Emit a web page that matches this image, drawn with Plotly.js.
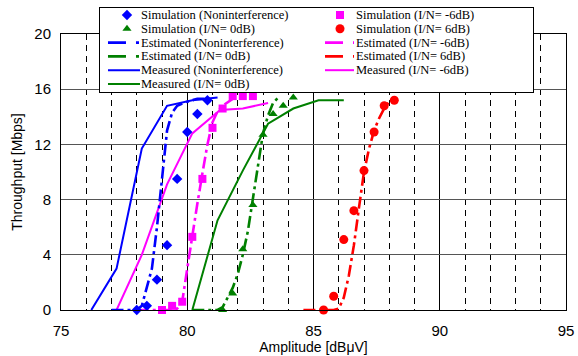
<!DOCTYPE html>
<html>
<head>
<meta charset="utf-8">
<script src="https://cdn.plot.ly/plotly-3.0.1.min.js"></script>
<style>html,body{margin:0;padding:0;background:#fff;}#chart{width:578px;height:356px;}</style>
</head>
<body>
<div id="chart"></div>
<script>
// ---------- data ----------
const simNI_x = [78.0, 78.4, 78.8, 79.2, 79.6, 80.0, 80.4, 80.8];
const simNI_y = [0, 0.3, 2.2, 4.7, 9.5, 12.9, 14.2, 15.2];
const simM6_x = [79.0, 79.4, 79.8, 80.2, 80.6, 81.0, 81.4, 81.8, 82.2, 82.6];
const simM6_y = [0, 0.3, 0.6, 5.3, 9.5, 13.2, 14.6, 15.5, 15.5, 15.5];
const sim0_x = [81.4, 81.8, 82.2, 82.6, 83.0, 83.4, 83.8, 84.2];
const sim0_y = [0, 1.2, 4.4, 7.6, 12.7, 14.2, 14.8, 15.4];
const sim6_x = [85.4, 85.8, 86.2, 86.6, 87.0, 87.4, 87.8, 88.2];
const sim6_y = [0, 1.0, 5.1, 7.2, 10.1, 12.9, 14.8, 15.2];

const estNI_x = [77.0, 78.0, 78.2, 78.4, 78.6, 78.8, 79.0, 79.2, 79.4, 79.6, 80.0, 80.4, 80.8];
const estNI_y = [0, 0, 0.3, 1.6, 3.0, 6.0, 9.6, 13.0, 14.3, 14.8, 15.1, 15.3, 15.3];
const estM6_x = [78.0, 79.4, 79.6, 79.8, 80.0, 80.2, 80.4, 80.6, 80.8, 81.0, 81.2, 81.4, 81.8];
const estM6_y = [0, 0, 0.1, 0.6, 3.0, 5.5, 7.7, 9.9, 12.0, 13.6, 14.4, 14.8, 15.3];
const est0_x = [80.2, 81.2, 81.4, 81.6, 81.8, 82.0, 82.2, 82.4, 82.6, 82.8, 83.0, 83.2, 83.4, 83.6];
const est0_y = [0, 0, 0.2, 0.9, 1.6, 2.6, 4.0, 5.7, 8.0, 10.6, 12.8, 14.1, 15.0, 15.4];
const est6_x = [84.6, 85.8, 86.0, 86.2, 86.4, 86.6, 86.8, 87.0, 87.2, 87.4, 87.6, 87.8, 88.0];
const est6_y = [0, 0, 0.1, 0.9, 2.5, 4.7, 7.4, 10.0, 11.7, 13.0, 13.9, 14.6, 15.1];

const measNI_x = [76.2, 77.2, 78.2, 79.2, 80.2, 81.2];
const measNI_y = [0, 3.0, 11.7, 14.8, 15.2, 15.4];
const measM6_x = [77.2, 78.2, 79.2, 80.2, 81.3, 82.2, 83.2];
const measM6_y = [0, 4.0, 9.1, 12.8, 14.5, 14.6, 15.0];
const meas0_x = [80.2, 81.2, 82.2, 83.2, 84.2, 85.2, 86.2];
const meas0_y = [0, 6.5, 10.1, 13.5, 14.6, 15.2, 15.2];

const xTickVals = [75, 80, 85, 90, 95];
const yTickVals = [0, 4, 8, 12, 16, 20];
const xTitle = 'Amplitude [dBμV]';
const yTitle = 'Throughput [Mbps]';

const BLUE = '#0000FF', GREEN = '#008000', MAG = '#FF00FF', RED = '#FF0000';
const EST_DASH = '12px,4px,3px,4px';

// series: [name, x, y, kind, color, symbol, legendCol, legendRow]
const series = [
  ['Simulation (Noninterference)', simNI_x, simNI_y, 'sim', BLUE, 'diamond', 0, 0],
  ['Simulation (I/N= 0dB)', sim0_x, sim0_y, 'sim', GREEN, 'triangle-up', 0, 1],
  ['Estimated (Noninterference)', estNI_x, estNI_y, 'est', BLUE, null, 0, 2],
  ['Estimated (I/N= 0dB)', est0_x, est0_y, 'est', GREEN, null, 0, 3],
  ['Measured (Noninterference)', measNI_x, measNI_y, 'meas', BLUE, null, 0, 4],
  ['Measured (I/N= 0dB)', meas0_x, meas0_y, 'meas', GREEN, null, 0, 5],
  ['Simulation (I/N= -6dB)', simM6_x, simM6_y, 'sim', MAG, 'square', 1, 0],
  ['Simulation (I/N= 6dB)', sim6_x, sim6_y, 'sim', RED, 'circle', 1, 1],
  ['Estimated (I/N= -6dB)', estM6_x, estM6_y, 'est', MAG, null, 1, 2],
  ['Estimated (I/N= 6dB)', est6_x, est6_y, 'est', RED, null, 1, 3],
  ['Measured (I/N= -6dB)', measM6_x, measM6_y, 'meas', MAG, null, 1, 4]
];

const markerSize = {'diamond': 8, 'triangle-up': 8, 'square': 8, 'circle': 9};

// legend geometry (inset coordinate system, px-like units)
const legRowY = [15, 28.8, 42.6, 56.4, 70.2, 84];
const legColMarkerX = [127, 340];
const legColLineX = [[108, 140], [325, 354]];
const legColTextX = [140, 355];

const traces = [];
// draw order: measured, estimated, simulation markers on top
['meas', 'est', 'sim'].forEach(kind => {
  series.forEach(s => {
    if (s[3] !== kind) return;
    if (kind === 'sim') {
      traces.push({x: s[1], y: s[2], type: 'scatter', mode: 'markers', name: s[0],
        marker: {symbol: s[5], size: markerSize[s[5]], color: s[4], line: {width: 0}},
        cliponaxis: false, hoverinfo: 'x+y'});
    } else {
      traces.push({x: s[1], y: s[2], type: 'scatter', mode: 'lines', name: s[0],
        line: {color: s[4], width: kind === 'est' ? 2.6 : 2, dash: kind === 'est' ? EST_DASH : 'solid'},
        hoverinfo: 'x+y'});
    }
  });
});

// legend samples on inset axes
const annotations = [];
series.forEach(s => {
  const col = s[6], row = s[7], yy = legRowY[row];
  if (s[3] === 'sim') {
    traces.push({x: [legColMarkerX[col]], y: [yy], xaxis: 'x2', yaxis: 'y2', type: 'scatter', mode: 'markers',
      marker: {symbol: s[5], size: markerSize[s[5]], color: s[4]}, hoverinfo: 'skip'});
  } else {
    traces.push({x: legColLineX[col], y: [yy, yy], xaxis: 'x2', yaxis: 'y2', type: 'scatter', mode: 'lines',
      line: {color: s[4], width: s[3] === 'est' ? 2.6 : 2, dash: s[3] === 'est' ? '18px,10px,3px,10px' : 'solid'},
      hoverinfo: 'skip'});
  }
  annotations.push({xref: 'x2', yref: 'y2', x: legColTextX[col], y: yy, text: s[0], showarrow: false,
    xanchor: 'left', yanchor: 'middle', borderpad: 0,
    font: {family: 'Liberation Serif, Times New Roman, serif', size: 12.5, color: '#000'}});
});

const layout = {
  width: 578, height: 356,
  margin: {l: 61, r: 12, t: 8, b: 46},
  paper_bgcolor: '#fff', plot_bgcolor: '#fff',
  showlegend: false,
  font: {family: 'Liberation Sans, Arial, sans-serif', color: '#000'},
  xaxis: {
    domain: [0, 1], anchor: 'y', range: [75, 95], tickvals: xTickVals, ticktext: xTickVals.map(String),
    showgrid: true, gridcolor: '#000', gridwidth: 1,
    minor: {dtick: 1, tick0: 75, showgrid: true, gridcolor: '#000', gridwidth: 1, griddash: '6px,5px'},
    showline: true, mirror: true, linecolor: '#000', linewidth: 1, zeroline: false,
    ticks: '', tickfont: {size: 15, color: '#000'}, ticklabelstandoff: 7,
    title: {text: xTitle, font: {size: 14, color: '#000'}, standoff: 1}
  },
  yaxis: {
    domain: [0, 0.9139], anchor: 'x', range: [0, 20], tickvals: yTickVals, ticktext: yTickVals.map(String),
    showgrid: true, gridcolor: '#555', gridwidth: 1,
    showline: true, mirror: true, linecolor: '#000', linewidth: 1, zeroline: false,
    ticks: '', tickfont: {size: 15, color: '#000'}, ticklabelstandoff: 6,
    title: {text: yTitle, font: {size: 14, color: '#000'}, standoff: 8}
  },
  xaxis2: {
    domain: [0.0772, 0.9347], anchor: 'y2', range: [100, 533],
    showgrid: false, zeroline: false, showticklabels: false, ticks: '',
    showline: true, mirror: true, linecolor: '#000', linewidth: 1, fixedrange: true
  },
  yaxis2: {
    domain: [0.7219, 1], anchor: 'x2', range: [92, 8],
    showgrid: false, zeroline: false, showticklabels: false, ticks: '',
    showline: true, mirror: true, linecolor: '#000', linewidth: 1, fixedrange: true
  },
  annotations: annotations
};

Plotly.newPlot('chart', traces, layout, {displayModeBar: false, staticPlot: true});
</script>
</body>
</html>
